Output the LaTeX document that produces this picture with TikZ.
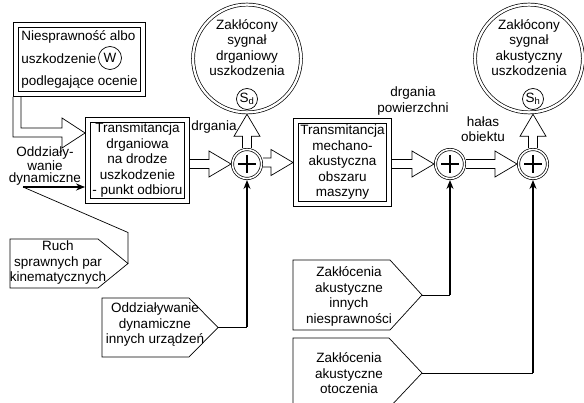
\documentclass[tikz,border=0pt]{standalone}
\usepackage{fontspec}
\setmainfont{Liberation Sans}
\usetikzlibrary{calc,arrows.meta}

\begin{document}
\begin{tikzpicture}[x=1pt,y=-1pt,
    every node/.style={font=\fontsize{13.5pt}{15.5pt}\selectfont, inner sep=0pt},
    block/.style={draw, double, double distance=4.5pt, line width=0.7pt, outer sep=2.95pt, align=center},
    signalbig/.style={draw, circle, double, double distance=2.3pt, line width=0.7pt, outer sep=1.85pt, minimum size=104pt, align=center},
    sumbox/.style={draw, circle, double, double distance=1.6pt, line width=0.7pt, outer sep=1.5pt, minimum size=29pt},
    tagcircle/.style={draw, circle, line width=0.7pt, minimum size=21pt},
    hollowline/.style={draw, line width=0.7pt, line join=miter},
    feed/.style={line width=1.3pt, -{Stealth[length=9pt,width=7pt]}},
    plain/.style={line width=0.7pt},
    lbl/.style={align=center}
]
    \pgfmathsetmacro{\shaftw}{4.5}
    \pgfmathsetmacro{\headw}{13}
    \pgfmathsetmacro{\headl}{22}
    \providecommand{\hollowright}[2]{%
        \draw[hollowline] let \p1=(#1), \p2=(#2) in
            (\x1,\y2+\shaftw pt) -- (\x2-\headl pt,\y2+\shaftw pt) -- (\x2-\headl pt,\y2+\headw pt) -- (\x2,\y2)
            -- (\x2-\headl pt,\y2-\headw pt) -- (\x2-\headl pt,\y2-\shaftw pt) -- (\x1,\y2-\shaftw pt);}
    \providecommand{\hollowup}[2]{%
        \draw[hollowline] let \p1=(#1), \p2=(#2) in
            (\x1-\shaftw pt,\y1) -- (\x1-\shaftw pt,\y2-\headl pt) -- (\x1-\headw pt,\y2-\headl pt) -- (\x1,\y2)
            -- (\x1+\headw pt,\y2-\headl pt) -- (\x1+\shaftw pt,\y2-\headl pt) -- (\x1+\shaftw pt,\y1);}
    \path[use as bounding box, clip] (0,0) rectangle (584,403);

    % blocks
    \node[block, minimum width=127pt, minimum height=69pt, align=left, font=\fontsize{13.5pt}{22.5pt}\selectfont] (fault) at (79.5,59.5) {Niesprawność albo\\uszkodzenie\hspace{24pt}\\podlegające ocenie};
    \node[tagcircle, minimum size=23pt] (w) at (110,58) {W};
    \node[block, minimum width=99pt, minimum height=81pt] (t1) at (137.5,160.5) {Transmitancja\\drganiowa\\na drodze\\uszkodzenie\\- punkt odbioru};
    \node[block, minimum width=93pt, minimum height=83pt] (t2) at (342.5,162.5) {Transmitancja\\mechano-\\akustyczna\\obszaru\\maszyny};

    % sums and output signals
    \node[sumbox] (s1) at (247,164) {};
    \node[sumbox] (s2) at (450,164) {};
    \node[sumbox] (s3) at (533,164) {};
    \foreach \s in {s1,s2,s3}
        \draw[line width=1.1pt] ($(\s)+(-9,0)$) -- ($(\s)+(9,0)$) ($(\s)+(0,-9)$) -- ($(\s)+(0,9)$);
    \node[signalbig] (sd) at (247,58.5) {Zakłócony\\sygnał\\drganiowy\\uszkodzenia\\[6pt]};
    \node[tagcircle] (sdtag) at (247,99) {S\textsubscript{d}};
    \node[signalbig] (sh) at (529,58.5) {Zakłócony\\sygnał\\akustyczny\\uszkodzenia\\[6pt]};
    \node[tagcircle] (shtag) at (533,99) {S\textsubscript{h}};

    % labels
    \node[lbl] (drg) at (214,127) {drgania};
    \node[lbl] (drgpow) at (413,101) {drgania\\powierzchni};
    \node[lbl] (halas) at (483,129) {hałas\\obiektu};
    \node[lbl, font=\fontsize{13.5pt}{12.5pt}\selectfont] (dyn) at (45,166) {Oddziały-\\wanie\\dynamiczne};
    \coordinate (dynin) at (23,187);

    % disturbance sources (pointed boxes)
    \coordinate (ruchtip) at (128,263.5);
    \draw[plain] (ruchtip) -- ++(-30,24.5) -- ++(-88,0) -- ++(0,-49) -- ++(88,0) -- cycle;
    \node[lbl] (ruch) at (58,263) {Ruch\\sprawnych par\\kinematycznych};
    \coordinate (oddtip) at (218,327.5);
    \draw[plain] (oddtip) -- ++(-29,29.5) -- ++(-87,0) -- ++(0,-59) -- ++(87,0) -- cycle;
    \node[lbl] (odd) at (155,325) {Oddziaływanie\\dynamiczne\\innych urządzeń};
    \coordinate (zak1tip) at (422,295);
    \draw[plain] (zak1tip) -- ++(-32,35) -- ++(-97,0) -- ++(0,-70) -- ++(97,0) -- cycle;
    \node[lbl] (zak1) at (349,296.5) {Zakłócenia\\akustyczne\\innych\\niesprawności};
    \coordinate (zak2tip) at (422,373);
    \draw[plain] (zak2tip) -- ++(-33,35) -- ++(-96,0) -- ++(0,-70) -- ++(96,0) -- cycle;
    \node[lbl] (zak2) at (349,373.5) {Zakłócenia\\akustyczne\\otoczenia};

    % hollow signal arrows
    \coordinate (fa) at (fault.south west);
    \draw[hollowline] (fa) -- ($(fa)+(0,40)$) -- (62,137) -- (62,148) -- (t1.west |- 0,133)
        -- (62,118) -- (62,128) -- ($(fa)+(8,31)$) -- ($(fa)+(8,0)$);
    \hollowright{t1.east}{s1.west}
    \hollowright{s1.east}{t2.west}
    \hollowright{t2.east}{s2.west}
    \hollowright{s2.east}{s3.west}
    \hollowup{s1.north}{sd.south}
    \hollowup{s3.north}{sh.south}

    % disturbance lines
    \draw[plain] (ruchtip) -- ++(0,-31) -- (dynin);
    \draw[feed] (dynin) -- (dynin -| t1.west);
    \draw[plain] (oddtip) -- (oddtip -| s1.south);
    \draw[feed] (oddtip -| s1.south) -- (s1.south);
    \draw[plain] (zak1tip) -- (zak1tip -| s2.south);
    \draw[feed] (zak1tip -| s2.south) -- (s2.south);
    \draw[plain] (zak2tip) -- (zak2tip -| s3.south);
    \draw[feed] (zak2tip -| s3.south) -- (s3.south);
\end{tikzpicture}
\end{document}
